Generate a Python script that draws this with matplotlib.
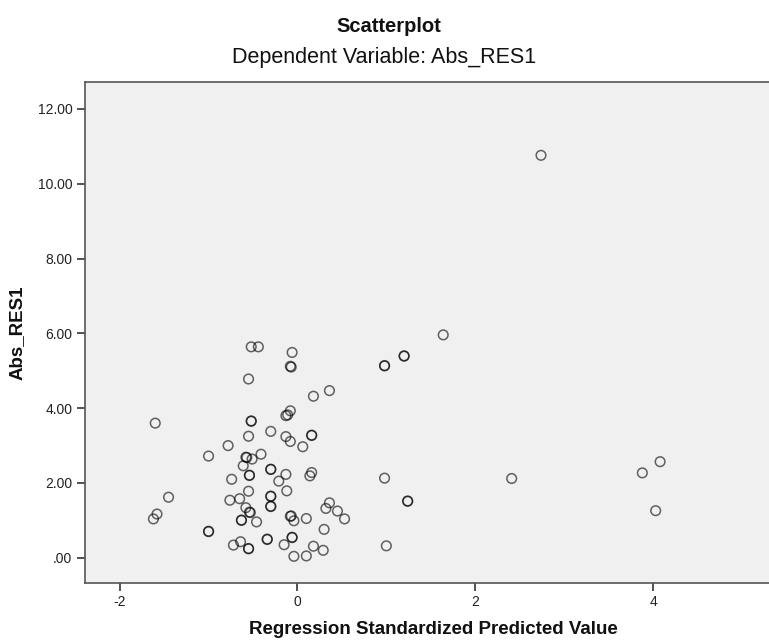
import matplotlib
matplotlib.use("Agg")
import matplotlib.pyplot as plt

# Regression standardized predicted value (x) and Abs_RES1 (y)
pred_value = [
    -0.52, -0.44, -0.06, -0.08, -0.07, -0.55, 0.36, 0.18, -0.08, -0.13,
    -0.11, -1.60, -0.52, -0.52, -0.30, -0.55, -0.13, -0.08, 0.16, 0.16,
    0.06, -0.78, -1.00, -0.41, -0.58, -0.57, -0.51, -0.61, -0.30, -0.30,
    -0.54, -0.54, -0.13, 0.16, 0.14, -0.74, -0.21, -0.55, -0.12, -1.45,
    -0.76, -0.65, -0.30, -0.30, -0.30, -0.30, -0.58, -0.54, -0.53, -1.58,
    -1.62, -0.63, -0.63, -0.46, -0.08, -0.07, -0.04, 0.10, 0.36, 0.32,
    0.45, 0.53, 0.30, -1.00, -1.00, -0.64, -0.72, -0.55, -0.55, -0.34,
    -0.34, -0.06, -0.06, -0.15, 0.18, 0.29, -0.04, 0.10, 0.98, 1.00,
    1.64, 1.20, 1.20, 0.98, 0.98, 2.41, 1.24, 1.24, 4.08, 3.88,
    4.03, 2.74,
]
abs_res = [
    5.64, 5.64, 5.49, 5.12, 5.10, 4.78, 4.47, 4.32, 3.93, 3.80,
    3.82, 3.60, 3.66, 3.65, 3.38, 3.25, 3.24, 3.11, 3.28, 3.27,
    2.97, 3.00, 2.72, 2.77, 2.69, 2.68, 2.64, 2.46, 2.37, 2.36,
    2.21, 2.20, 2.23, 2.28, 2.19, 2.10, 2.05, 1.78, 1.79, 1.62,
    1.54, 1.58, 1.65, 1.64, 1.38, 1.37, 1.34, 1.22, 1.21, 1.17,
    1.04, 1.01, 1.00, 0.96, 1.11, 1.12, 0.99, 1.05, 1.47, 1.32,
    1.25, 1.04, 0.76, 0.71, 0.70, 0.43, 0.34, 0.25, 0.24, 0.50,
    0.49, 0.55, 0.54, 0.35, 0.31, 0.20, 0.04, 0.05, 2.13, 0.32,
    5.96, 5.40, 5.39, 5.14, 5.13, 2.12, 1.52, 1.51, 2.57, 2.27,
    1.26, 10.76,
]

x_ticks = [-2, 0, 2, 4]
x_tick_labels = ["-2", "0", "2", "4"]
y_ticks = [0, 2, 4, 6, 8, 10, 12]
y_tick_labels = [".00", "2.00", "4.00", "6.00", "8.00", "10.00", "12.00"]

title = "Scatterplot"
subtitle = "Dependent Variable: Abs_RES1"
x_label = "Regression Standardized Predicted Value"
y_label = "Abs_RES1"

plt.rcParams["font.family"] = ["Liberation Sans", "DejaVu Sans"]

W, H = 769, 642
fig = plt.figure(figsize=(W / 100, H / 100), dpi=100)
fig.patch.set_facecolor("white")

left, right, top, bottom = 85, 781, 82, 582.5
ax = fig.add_axes([left / W, 1 - bottom / H, (right - left) / W, (bottom - top) / H])
ax.set_facecolor("#F0F0F0")

ax.scatter(pred_value, abs_res, s=48, facecolors="none",
           edgecolors=(0, 0, 0, 0.6), linewidths=1.1, zorder=3)

ax.set_xlim(-2.39, 5.44)
ax.set_ylim(-0.66, 12.72)
ax.set_xticks(x_ticks)
ax.set_xticklabels(x_tick_labels)
ax.set_yticks(y_ticks)
ax.set_yticklabels(y_tick_labels)
ax.tick_params(axis="both", direction="out", length=6, width=1.1,
               color="#222222", labelsize=10, labelcolor="#222222", pad=3)

for side in ["left", "bottom", "top", "right"]:
    ax.spines[side].set_color("#555555")
    ax.spines[side].set_linewidth(1.2)

ax.set_xlabel(x_label, fontsize=13.5, fontweight="bold", color="#111111", labelpad=9)
ax.set_ylabel(y_label, fontsize=13.5, fontweight="bold", color="#111111", labelpad=9)

fig.text(0.506, 1 - 26 / H, title, ha="center", va="center",
         fontsize=14.5, fontweight="bold", color="#111111")
fig.text(0.5, 1 - 57 / H, subtitle, ha="center", va="center",
         fontsize=15.5, color="#111111")

fig.savefig("out.png", dpi=100, facecolor="white")
